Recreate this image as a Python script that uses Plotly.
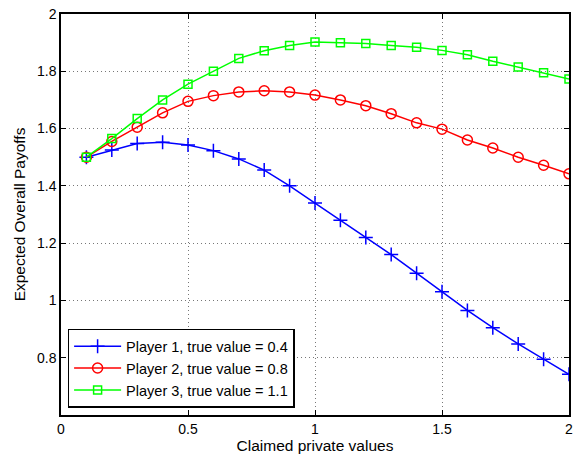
import plotly.graph_objects as go

x_vals = [0.1, 0.2, 0.3, 0.4, 0.5, 0.6, 0.7, 0.8, 0.9, 1.0,
          1.1, 1.2, 1.3, 1.4, 1.5, 1.6, 1.7, 1.8, 1.9, 2.0]
player1 = [1.500, 1.525, 1.548, 1.552, 1.543, 1.523, 1.494, 1.455, 1.400, 1.340,
           1.280, 1.220, 1.160, 1.095, 1.030, 0.965, 0.905, 0.848, 0.795, 0.742]
player2 = [1.500, 1.555, 1.605, 1.655, 1.695, 1.715, 1.728, 1.732, 1.728, 1.717,
           1.700, 1.680, 1.652, 1.620, 1.598, 1.560, 1.532, 1.500, 1.472, 1.442]
player3 = [1.500, 1.565, 1.635, 1.700, 1.755, 1.800, 1.845, 1.872, 1.890, 1.902,
           1.900, 1.897, 1.890, 1.884, 1.873, 1.858, 1.835, 1.815, 1.795, 1.773]
names = ["Player 1, true value = 0.4", "Player 2, true value = 0.8", "Player 3, true value = 1.1"]
x_ticks = [0, 0.5, 1, 1.5, 2]
x_tick_labels = ["0", "0.5", "1", "1.5", "2"]
y_ticks = [0.8, 1.0, 1.2, 1.4, 1.6, 1.8, 2.0]
y_tick_labels = ["0.8", "1", "1.2", "1.4", "1.6", "1.8", "2"]

FONT = "Liberation Sans, Arial, Helvetica, sans-serif"

fig = go.Figure()
fig.add_trace(go.Scatter(x=x_vals, y=player1, name=names[0], mode="lines+markers",
                         line=dict(color="#0000ff", width=1.5),
                         marker=dict(symbol="cross-thin", size=10,
                                     line=dict(color="#0000ff", width=1.5))))
fig.add_trace(go.Scatter(x=x_vals, y=player2, name=names[1], mode="lines+markers",
                         line=dict(color="#ff0000", width=1.5),
                         marker=dict(symbol="circle-open", size=10,
                                     line=dict(color="#ff0000", width=1.5))))
fig.add_trace(go.Scatter(x=x_vals, y=player3, name=names[2], mode="lines+markers",
                         line=dict(color="#00ff00", width=1.5),
                         marker=dict(symbol="square-open", size=8,
                                     line=dict(color="#00ff00", width=1.5))))

axis_common = dict(showline=True, linecolor="black", linewidth=1.5, mirror="ticks",
                   ticks="inside", ticklen=5, tickcolor="black", tickwidth=1,
                   showgrid=True, gridcolor="#777777", griddash="1px,3px", gridwidth=1,
                   zeroline=False, automargin=False, ticklabeloverflow="allow",
                   tickfont=dict(family=FONT, size=14, color="black"))

fig.update_xaxes(range=[0, 2], tickvals=x_ticks, ticktext=x_tick_labels,
                 title=dict(text="Claimed private values", standoff=3,
                            font=dict(family=FONT, size=15.5, color="black")),
                 **axis_common)
fig.update_yaxes(range=[0.6, 2], tickvals=y_ticks, ticktext=y_tick_labels,
                 title=dict(text="Expected Overall Payoffs", standoff=8,
                            font=dict(family=FONT, size=15.5, color="black")),
                 **axis_common)

fig.update_layout(
    width=573, height=458,
    margin=dict(l=61, r=4, t=14, b=43),
    paper_bgcolor="white", plot_bgcolor="white",
    font=dict(family=FONT, size=15, color="black"),
    legend=dict(x=0.013, y=0.018, xanchor="left", yanchor="bottom",
                bordercolor="black", borderwidth=1.5, bgcolor="white",
                itemwidth=47, tracegroupgap=0,
                font=dict(family=FONT, size=14.5, color="black")),
)

# remove the default page margin so the 573x458 figure fills the window exactly
fig.write_html("out.html",
               config={"displayModeBar": False},
               post_script="document.body.style.margin='0';document.body.style.overflow='hidden';")
